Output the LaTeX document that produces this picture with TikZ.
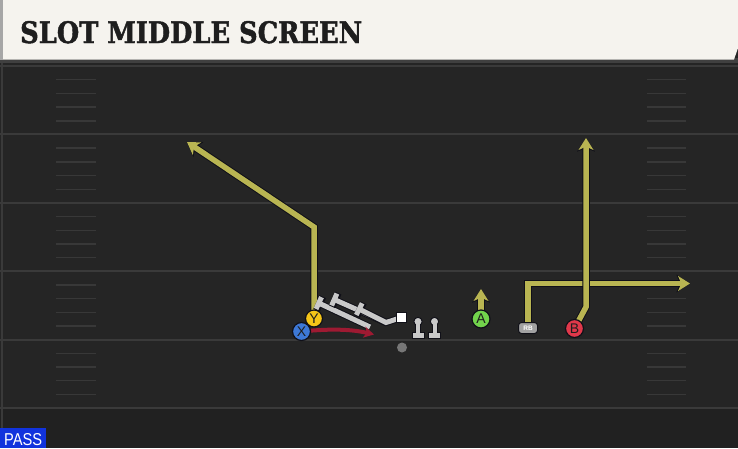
\documentclass[tikz,border=0pt]{standalone}
\usepackage{fontspec}
\usepackage{graphicx}
\setmainfont{Liberation Sans}
\newfontfamily\titlefont[BoldFeatures={FakeBold=1.6}]{DejaVu Serif}
\newfontfamily\passfont{Liberation Sans}
\usetikzlibrary{arrows.meta}
\pgfdeclarelayer{bg}
\pgfsetlayers{bg,main}
\definecolor{fieldc}{HTML}{252525}
\definecolor{bottomc}{HTML}{212121}
\definecolor{yardc}{HTML}{3A3A3A}
\definecolor{hashc}{HTML}{383838}
\definecolor{bannerc}{HTML}{F5F3EE}
\definecolor{titlec}{HTML}{1E1E1E}
\definecolor{routec}{HTML}{B9B552}
\definecolor{outc}{HTML}{101018}
\definecolor{blkc}{HTML}{C9C9C9}
\definecolor{redc}{HTML}{9E1A32}
\definecolor{Xc}{HTML}{3D78D6}
\definecolor{Yc}{HTML}{F5C518}
\definecolor{Ac}{HTML}{72D34C}
\definecolor{Bc}{HTML}{E0384A}
\definecolor{RBc}{HTML}{A2A2A2}
\definecolor{passc}{HTML}{1133DD}
\definecolor{qbc}{HTML}{777777}
\begin{document}
\begin{tikzpicture}[x=1pt,y=-1pt,
  yard/.style={draw=yardc,line width=2pt},
  hash/.style={draw=hashc,line width=1.4pt},
  player/.style={circle,draw=outc,line width=1.2pt,minimum size=18pt,inner sep=0pt,text=titlec,font=\fontsize{14}{14}\selectfont},
  rbbox/.style={rounded corners=3pt,draw=outc,line width=1pt,fill=RBc,minimum width=19pt,minimum height=11pt,inner sep=0pt,text=white,font=\fontsize{6.5}{6.5}\selectfont\bfseries},
  sqbox/.style={rectangle,draw=outc,line width=1pt,fill=white,minimum size=9.5pt,inner sep=0pt},
  qbdot/.style={circle,fill=qbc,minimum size=10pt,inner sep=0pt},
  route/.style={draw=routec,line width=5.5pt,line join=miter,-{Stealth[inset=3.5pt,length=12pt,width=15pt]},
    preaction={draw=outc,line width=7.5pt,-{Stealth[inset=3.5pt,length=13.5pt,width=17.5pt]}}},
  blockl/.style={draw=blkc,line width=5pt,-{Bar[width=13pt]},
    preaction={draw=outc,line width=7pt,-{Bar[width=15pt]}}},
  redarrow/.style={draw=redc,line width=4pt,-{Stealth[inset=2.5pt,length=10pt,width=11pt]}}
]
\useasboundingbox (0,0) rectangle (738,448);
\begin{pgfonlayer}{bg}
  % field
  \fill[fieldc] (0,0) rectangle (738,448);
  \fill[bottomc] (0,408) rectangle (738,448);
  \foreach \k in {0,...,5} \draw[yard] (0,{66+68.4*\k}) -- (738,{66+68.4*\k});
  \foreach \k in {0,...,4} \foreach \j in {1,...,4} {
    \draw[hash] (56,{66+68.4*\k+13.7*\j}) -- (96,{66+68.4*\k+13.7*\j});
    \draw[hash] (647,{66+68.4*\k+13.7*\j}) -- (686,{66+68.4*\k+13.7*\j});
  }
  \draw[draw=yardc,line width=2pt] (1.5,60) -- (1.5,448);
  % banner
  \fill[black!75] (0,58) rectangle (738,63);
  \fill[bannerc] (0,0) -- (738,0) -- (738,48) -- (734,59.5) -- (0,59.5) -- cycle;
  \fill[black!35] (0,0) rectangle (3,59.5);
  % pass box
  \fill[passc] (0,428) rectangle (46,448);
\end{pgfonlayer}

% title and label
\node[anchor=base west,inner sep=0pt,text=titlec] (title) at (20,43)
  {\resizebox{342pt}{22pt}{\titlefont\bfseries SLOT MIDDLE SCREEN}};
\node[anchor=base west,inner sep=0pt,text=white] (pass) at (4,445)
  {\resizebox{38pt}{12pt}{\passfont PASS}};

% players
\node[player,fill=Xc] (X) at (301.5,331.5) {X};
\node[player,fill=Yc,minimum size=17pt] (Y) at (314,318.5) {Y};
\node[player,fill=Ac] (A) at (481,319) {A};
\node[player,fill=Bc] (B) at (574.5,328.5) {B};
\node[rbbox] (RB) at (528,328) {RB};
\node[sqbox] (C) at (401.5,317.5) {};
\node[qbdot] (QB) at (402,347.5) {};

% linemen (T shapes)
\coordinate (G1) at (418,329);
\coordinate (G2) at (434.5,329);
\foreach \g in {G1,G2} {
  \begin{scope}[shift={(\g)}]
    \filldraw[fill=blkc,draw=outc,line width=1pt] (-2.5,-7) rectangle (2.5,4);
    \filldraw[fill=blkc,draw=outc,line width=1pt] (-6,3) rectangle (6,9.5);
    \filldraw[fill=blkc,draw=outc,line width=1pt] (0,-7.5) circle (4.2);
    \fill[blkc] (-2,-6) rectangle (2,4.5);
  \end{scope}
}

% hidden lineman spots and route points
\coordinate (LT) at (370,327);
\coordinate (LG) at (386,322.5);
\coordinate (cap1) at (316.5,302);
\coordinate (cap2) at (332,298.5);
\coordinate (cap3) at (357,308);
\coordinate (Ybend) at (314,227);
\coordinate (Ytip) at (187,142);
\coordinate (Atip) at (481,289);
\coordinate (RBbend) at (528,283.5);
\coordinate (RBtip) at (690,283.5);
\coordinate (Bbend) at (586,307);
\coordinate (Btip) at (586,138);
\coordinate (redtip) at (374,334.5);

\begin{pgfonlayer}{bg}
  \draw[route] (Y.center) -- (Ybend) -- (Ytip);
  \draw[route] (A.center) -- (Atip);
  \draw[route] (RB.center) -- (RBbend) -- (RBtip);
  \draw[route] (B.center) -- (Bbend) -- (Btip);
  \draw[blockl] (LT) -- (cap1);
  \draw[blockl] (LG) -- (cap2);
  \draw[blockl] (C.center) -- (LG) -- (cap3);
  \draw[redarrow] (X.center) .. controls (335,328) and (355,330) .. (redtip);
\end{pgfonlayer}
\end{tikzpicture}
\end{document}
